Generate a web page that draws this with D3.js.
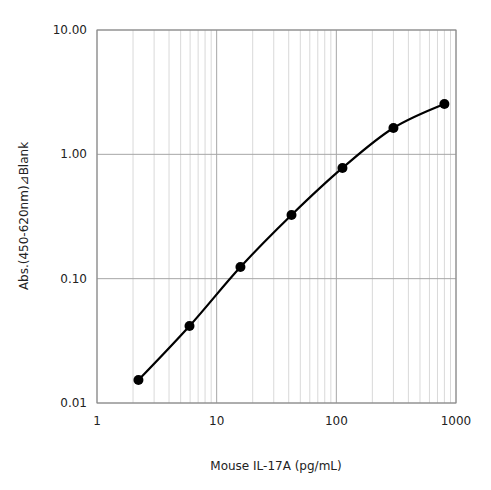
<!DOCTYPE html>
<html><head><meta charset="utf-8">
<script src="https://cdn.jsdelivr.net/npm/d3@7"></script>
<style>body{margin:0;background:#fff}text{font-family:"DejaVu Sans",sans-serif;font-size:12px;fill:#222}</style>
</head><body><svg id="c" width="491" height="490"></svg>
<script>
// standard curve data
var conc = [2.22, 5.93, 15.8, 42.2, 112.5, 300, 800];
var absorb = [0.0153, 0.0416, 0.124, 0.325, 0.777, 1.63, 2.54];
var xTicks = [1, 10, 100, 1000];
var yTicks = [0.01, 0.1, 1, 10];

var svg = d3.select("#c");
var x = d3.scaleLog().domain([1, 1000]).range([97, 456]);
var y = d3.scaleLog().domain([0.01, 10]).range([403, 30]);

// minor grid
var minorX = [], minorY = [];
for (var d = 1; d < 1000; d *= 10) for (var k = 2; k < 10; k++) minorX.push(d * k);
for (var d2 = 0.01; d2 < 10; d2 *= 10) for (var k2 = 2; k2 < 10; k2++) minorY.push(d2 * k2);
svg.selectAll(".mx").data(minorX).enter().append("line")
    .attr("x1", x).attr("x2", x).attr("y1", 30).attr("y2", 403)
    .attr("stroke", "#d9d9d9").attr("stroke-width", 1);
svg.selectAll(".gx").data(xTicks).enter().append("line")
    .attr("x1", x).attr("x2", x).attr("y1", 30).attr("y2", 403)
    .attr("stroke", "#a6a6a6").attr("stroke-width", 1);
svg.selectAll(".gy").data(yTicks).enter().append("line")
    .attr("y1", y).attr("y2", y).attr("x1", 97).attr("x2", 456)
    .attr("stroke", "#a6a6a6").attr("stroke-width", 1);
svg.append("rect").attr("x", 97).attr("y", 30).attr("width", 359).attr("height", 373)
    .attr("fill", "none").attr("stroke", "#888");

svg.selectAll(".tx").data(xTicks).enter().append("text")
    .attr("x", x).attr("y", 425).attr("text-anchor", "middle").text(function(d) { return d; });
svg.selectAll(".ty").data(yTicks).enter().append("text")
    .attr("x", 87).attr("y", function(d) { return y(d) + 4; }).attr("text-anchor", "end")
    .text(function(d) { return d.toFixed(2); });

svg.append("text").attr("x", 276).attr("y", 470).attr("text-anchor", "middle").text("Mouse IL-17A (pg/mL)");
svg.append("text").attr("transform", "translate(28,216) rotate(-90)").attr("text-anchor", "middle")
    .text("Abs.(450-620nm)⊿Blank");

var pts = conc.map(function(c, i) { return [c, absorb[i]]; });
var line = d3.line().x(function(d) { return x(d[0]); }).y(function(d) { return y(d[1]); })
    .curve(d3.curveCatmullRom);
svg.append("path").datum(pts).attr("d", line).attr("fill", "none").attr("stroke", "#000").attr("stroke-width", 2.2);
svg.selectAll(".pt").data(pts).enter().append("circle")
    .attr("cx", function(d) { return x(d[0]); }).attr("cy", function(d) { return y(d[1]); })
    .attr("r", 5).attr("fill", "#000");
</script></body></html>
